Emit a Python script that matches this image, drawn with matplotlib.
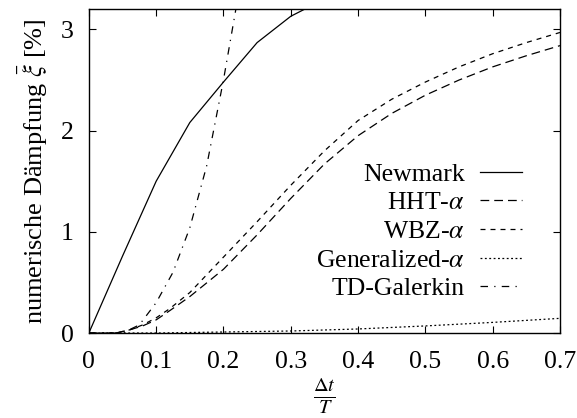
import matplotlib
matplotlib.use("Agg")
import matplotlib.pyplot as plt
from matplotlib import font_manager

_names = {f.name for f in font_manager.fontManager.ttflist}
_serif = next((n for n in ['Liberation Serif', 'Times New Roman', 'Nimbus Roman',
                           'TeX Gyre Termes', 'STIXGeneral'] if n in _names), 'DejaVu Serif')
plt.rcParams['font.family'] = [_serif, 'DejaVu Serif']
plt.rcParams['mathtext.fontset'] = 'stix'

# Data
newmark_x = [0.0, 0.05, 0.1, 0.15, 0.2, 0.25, 0.3, 0.35]
newmark_y = [0.0, 0.76, 1.50, 2.08, 2.48, 2.87, 3.13, 3.30]

hht_x = [0.0, 0.04, 0.06, 0.08, 0.1, 0.12, 0.15, 0.2, 0.25, 0.3, 0.35, 0.4, 0.45, 0.5, 0.55, 0.6, 0.65, 0.7]
hht_y = [0.0, 0.0, 0.03, 0.07, 0.13, 0.22, 0.36, 0.63, 0.97, 1.33, 1.67, 1.95, 2.17, 2.35, 2.50, 2.63, 2.74, 2.84]

wbz_x = [0.0, 0.04, 0.06, 0.08, 0.1, 0.12, 0.15, 0.2, 0.25, 0.3, 0.35, 0.4, 0.45, 0.5, 0.55, 0.6, 0.65, 0.7]
wbz_y = [0.0, 0.0, 0.03, 0.08, 0.15, 0.24, 0.40, 0.75, 1.10, 1.46, 1.80, 2.10, 2.31, 2.48, 2.63, 2.76, 2.87, 2.97]

gen_x = [0.0, 0.1, 0.2, 0.3, 0.4, 0.5, 0.6, 0.7]
gen_y = [0.0, 0.0, 0.01, 0.02, 0.04, 0.07, 0.105, 0.145]

td_x = [0.0, 0.05, 0.075, 0.1, 0.125, 0.15, 0.175, 0.2, 0.225]
td_y = [0.0, 0.0, 0.08, 0.30, 0.60, 1.04, 1.65, 2.50, 3.45]

labels = ['Newmark', r'HHT-$\alpha$', r'WBZ-$\alpha$', r'Generalized-$\alpha$', 'TD-Galerkin']
xticks = [0, 0.1, 0.2, 0.3, 0.4, 0.5, 0.6, 0.7]
xticklabels = ['0', '0.1', '0.2', '0.3', '0.4', '0.5', '0.6', '0.7']
yticks = [0, 1, 2, 3]

fs = 18.5

fig = plt.figure(figsize=(5.77, 4.18), dpi=100)
ax = fig.add_axes([0.154, 0.2033, 0.8165, 0.7747])

lw = 0.9
ax.plot(newmark_x, newmark_y, color='black', lw=lw, linestyle='-', label=labels[0])
ax.plot(hht_x, hht_y, color='black', lw=lw, linestyle=(0, (7, 4)), label=labels[1])
ax.plot(wbz_x, wbz_y, color='black', lw=lw, linestyle=(0, (4, 4)), label=labels[2])
ax.plot(gen_x, gen_y, color='black', lw=lw, linestyle=(0, (1.5, 2)), label=labels[3])
ax.plot(td_x, td_y, color='black', lw=lw, linestyle=(0, (6, 5, 1, 5)), label=labels[4])

ax.set_xlim(0, 0.7)
ax.set_ylim(0, 3.2)
ax.set_xticks(xticks)
ax.set_xticklabels(xticklabels)
ax.set_yticks(yticks)
ax.tick_params(direction='in', length=5, width=0.8, top=True, right=True,
               labelsize=fs)
ax.tick_params(axis='x', pad=13)
ax.tick_params(axis='y', pad=11)
for s in ax.spines.values():
    s.set_linewidth(1.0)

ax.set_ylabel(r'numerische Dämpfung $\bar{\xi}$ [%]', fontsize=19, labelpad=8)
ax.set_xlabel(r'$\frac{\Delta t}{T}$', fontsize=21, labelpad=2)

leg = ax.legend(loc='upper right', bbox_to_anchor=(0.919, 0.526), frameon=False,
                markerfirst=False, fontsize=fs, handlelength=1.63, handletextpad=0.58,
                labelspacing=0.22, borderpad=0, borderaxespad=0)

fig.savefig('out.png', dpi=100)
